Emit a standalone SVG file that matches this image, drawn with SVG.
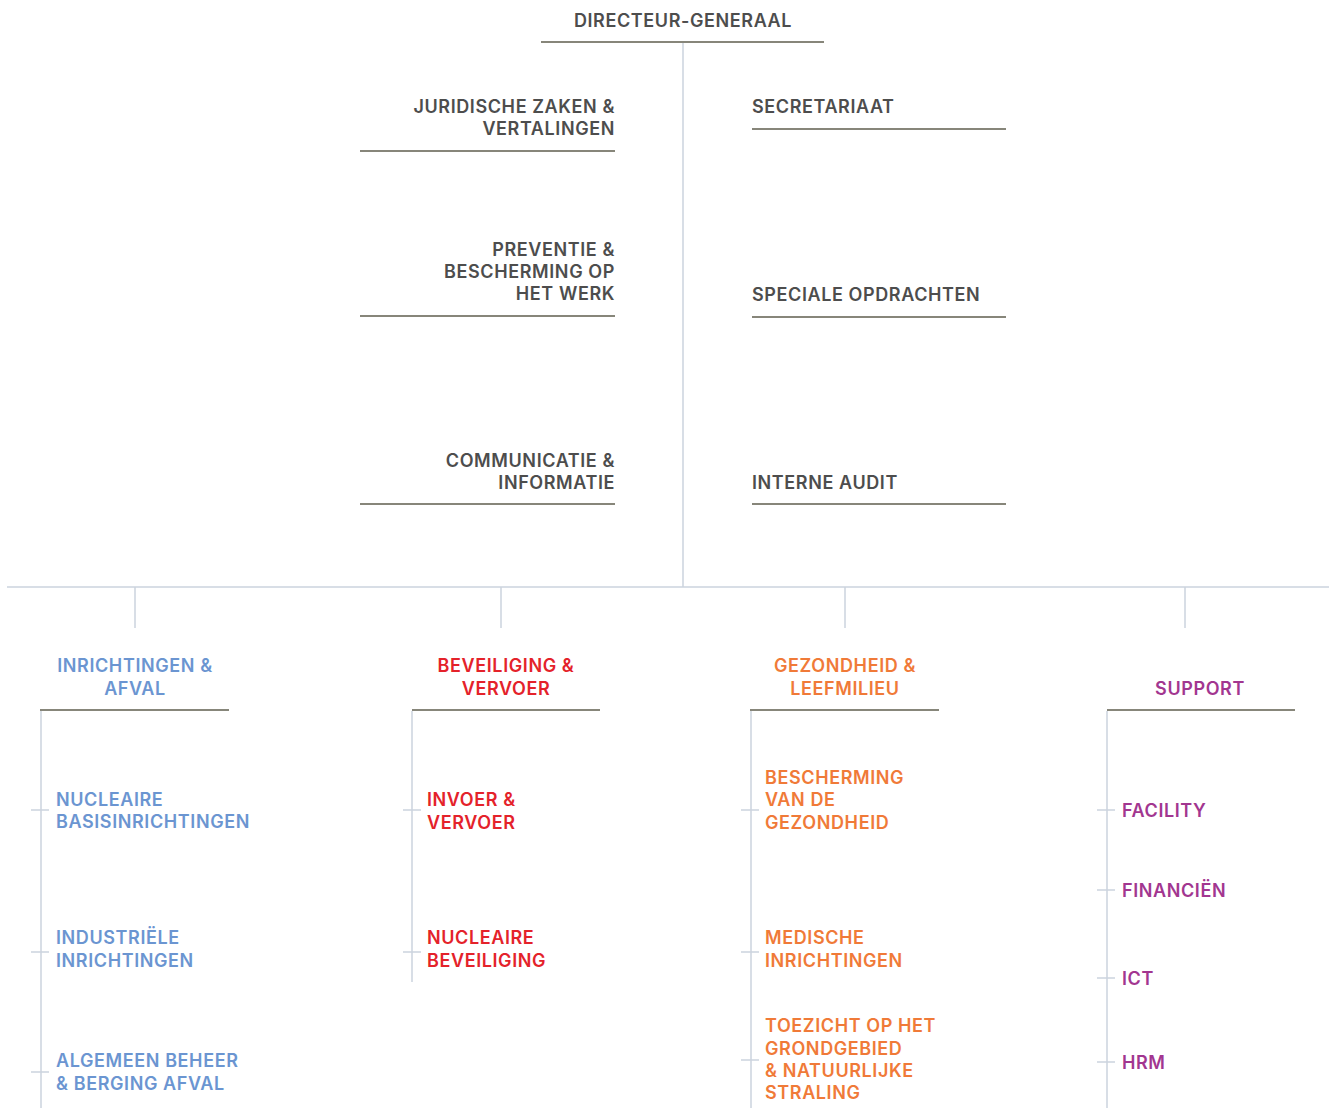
<svg xmlns="http://www.w3.org/2000/svg" width="1335" height="1108" viewBox="0 0 1335 1108">
<style>
text{font-family:Inter,"Liberation Sans",sans-serif;font-size:18px;font-weight:600;letter-spacing:0.6px;}
.g{fill:#4d4d4d}
.b{fill:#6b95d1}
.r{fill:#e4222a}
.o{fill:#f07a38}
.p{fill:#a23690}
.u{stroke:#87867a;stroke-width:2;fill:none}
.c{stroke:#ccd4de;stroke-width:1.5;fill:none}
.rt{text-anchor:end}
.mid{text-anchor:middle}
</style>
<rect width="1335" height="1108" fill="#fff"/>
<g id="connectors">
<path class="c" d="M683 43V587M7 587H1329M135 587V628M501 587V628M845 587V628M1185 587V628"/>
<path class="c" d="M41 711V1108M412 711V982M751 711V1108M1107 711V1108"/>
<path class="c" d="M31 810H49M31 952H49M31 1072H49M403 810H421M403 952H421M741 810H759M741 952H759M741 1060H759M1097 810H1115M1097 890H1115M1097 978H1115M1097 1062H1115"/>
</g>
<g id="dg"><text class="g mid" x="683" y="27">DIRECTEUR-GENERAAL</text><path class="u" d="M541 42H824"/></g>
<g id="juridische"><text class="g rt" x="615" y="113">JURIDISCHE ZAKEN &amp;</text><text class="g rt" x="615" y="135">VERTALINGEN</text><path class="u" d="M360 151H615"/></g>
<g id="preventie"><text class="g rt" x="615" y="256">PREVENTIE &amp;</text><text class="g rt" x="615" y="278">BESCHERMING OP</text><text class="g rt" x="615" y="300">HET WERK</text><path class="u" d="M360 316H615"/></g>
<g id="communicatie"><text class="g rt" x="615" y="467">COMMUNICATIE &amp;</text><text class="g rt" x="615" y="489">INFORMATIE</text><path class="u" d="M360 504H615"/></g>
<g id="secretariaat"><text class="g" x="752" y="113">SECRETARIAAT</text><path class="u" d="M752 129H1006"/></g>
<g id="speciale"><text class="g" x="752" y="301">SPECIALE OPDRACHTEN</text><path class="u" d="M752 317H1006"/></g>
<g id="audit"><text class="g" x="752" y="489">INTERNE AUDIT</text><path class="u" d="M752 504H1006"/></g>
<g id="inrichtingen"><text class="b mid" x="135" y="672">INRICHTINGEN &amp;</text><text class="b mid" x="135" y="695">AFVAL</text><path class="u" d="M40 710H229"/></g>
<g id="beveiliging"><text class="r mid" x="506" y="672">BEVEILIGING &amp;</text><text class="r mid" x="506" y="695">VERVOER</text><path class="u" d="M412 710H600"/></g>
<g id="gezondheid"><text class="o mid" x="845" y="672">GEZONDHEID &amp;</text><text class="o mid" x="845" y="695">LEEFMILIEU</text><path class="u" d="M750 710H939"/></g>
<g id="support"><text class="p mid" x="1200" y="695">SUPPORT</text><path class="u" d="M1107 710H1295"/></g>
<g id="nucleaire-basis"><text class="b" x="56" y="806">NUCLEAIRE</text><text class="b" x="56" y="828">BASISINRICHTINGEN</text></g>
<g id="industriele"><text class="b" x="56" y="944">INDUSTRIËLE</text><text class="b" x="56" y="967">INRICHTINGEN</text></g>
<g id="algemeen"><text class="b" x="56" y="1067">ALGEMEEN BEHEER</text><text class="b" x="56" y="1090">&amp; BERGING AFVAL</text></g>
<g id="invoer"><text class="r" x="427" y="806">INVOER &amp;</text><text class="r" x="427" y="829">VERVOER</text></g>
<g id="nucleaire-bev"><text class="r" x="427" y="944">NUCLEAIRE</text><text class="r" x="427" y="967">BEVEILIGING</text></g>
<g id="bescherming"><text class="o" x="765" y="784">BESCHERMING</text><text class="o" x="765" y="806">VAN DE</text><text class="o" x="765" y="829">GEZONDHEID</text></g>
<g id="medische"><text class="o" x="765" y="944">MEDISCHE</text><text class="o" x="765" y="967">INRICHTINGEN</text></g>
<g id="toezicht"><text class="o" x="765" y="1032">TOEZICHT OP HET</text><text class="o" x="765" y="1055">GRONDGEBIED</text><text class="o" x="765" y="1077">&amp; NATUURLIJKE</text><text class="o" x="765" y="1099">STRALING</text></g>
<g id="facility"><text class="p" x="1122" y="817">FACILITY</text></g>
<g id="financien"><text class="p" x="1122" y="897">FINANCIËN</text></g>
<g id="ict"><text class="p" x="1122" y="985">ICT</text></g>
<g id="hrm"><text class="p" x="1122" y="1069">HRM</text></g>
</svg>
